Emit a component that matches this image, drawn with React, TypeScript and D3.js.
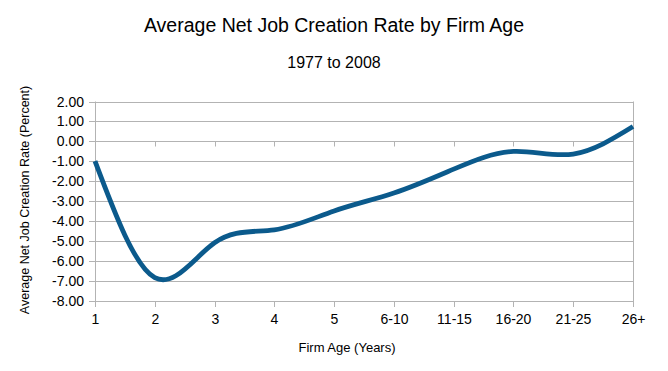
import React from "react";
import * as d3 from "d3";

const categories = ["1", "2", "3", "4", "5", "6-10", "11-15", "16-20", "21-25", "26+"];
const values = [-1.0, -6.85, -5.1, -4.45, -3.5, -2.6, -1.4, -0.51, -0.64, 0.74];
const yTicks = [2, 1, 0, -1, -2, -3, -4, -5, -6, -7, -8];

const W = 668;
const H = 371;
const left = 95;
const right = 633;
const top = 101.5;
const bottom = 300.5;
const font = "'Liberation Sans', Arial, sans-serif";
const grid = "#b3b3b3";

export default function App() {
  const x = d3.scalePoint<string>().domain(categories).range([left, right]);
  const y = d3.scaleLinear().domain([-8, 2]).range([bottom, top]);
  const line = d3
    .line<number>()
    .x((_, i) => x(categories[i]) as number)
    .y((d) => y(d))
    .curve(d3.curveNatural);
  const y0 = Math.round(y(0)) + 0.5;

  return (
    <svg width={W} height={H} style={{ position: "absolute", left: 0, top: 0, background: "#fff" }}>
      <rect x={0} y={0} width={W} height={H} fill="#fff" />
      <text x={334} y={32} textAnchor="middle" fontFamily={font} fontSize={19.5} fill="#000">
        Average Net Job Creation Rate by Firm Age
      </text>
      <text x={334} y={68} textAnchor="middle" fontFamily={font} fontSize={16} fill="#000">
        1977 to 2008
      </text>
      {yTicks.map((t) => {
        const yy = Math.round(y(t)) + 0.5;
        return (
          <g key={t}>
            <line x1={left - 6} x2={right} y1={yy} y2={yy} stroke={grid} strokeWidth={1} />
            <text x={84} y={yy} dy="0.35em" textAnchor="end" fontFamily={font} fontSize={14} fill="#000">
              {t.toFixed(2)}
            </text>
          </g>
        );
      })}
      <line x1={left + 0.5} x2={left + 0.5} y1={top} y2={bottom + 6} stroke={grid} />
      <line x1={right + 0.5} x2={right + 0.5} y1={top} y2={bottom + 6} stroke={grid} />
      {categories.map((c) => {
        const xx = Math.round(x(c) as number) + 0.5;
        return (
          <g key={c}>
            <line x1={xx} x2={xx} y1={y0} y2={y0 + 5} stroke={grid} />
            <line x1={xx} x2={xx} y1={Math.round(bottom) + 0.5} y2={Math.round(bottom) + 6} stroke={grid} />
            <text x={xx} y={324} textAnchor="middle" fontFamily={font} fontSize={14} fill="#000">
              {c}
            </text>
          </g>
        );
      })}
      <path d={line(values) || ""} fill="none" stroke="#0b5a8c" strokeWidth={4.8} strokeLinejoin="round" strokeLinecap="butt" />
      <text x={347} y={352} textAnchor="middle" fontFamily={font} fontSize={13} fill="#000">
        Firm Age (Years)
      </text>
      <text
        transform={`translate(29,200) rotate(-90)`}
        textAnchor="middle"
        fontFamily={font}
        fontSize={12.5}
        fill="#000"
      >
        Average Net Job Creation Rate (Percent)
      </text>
    </svg>
  );
}
